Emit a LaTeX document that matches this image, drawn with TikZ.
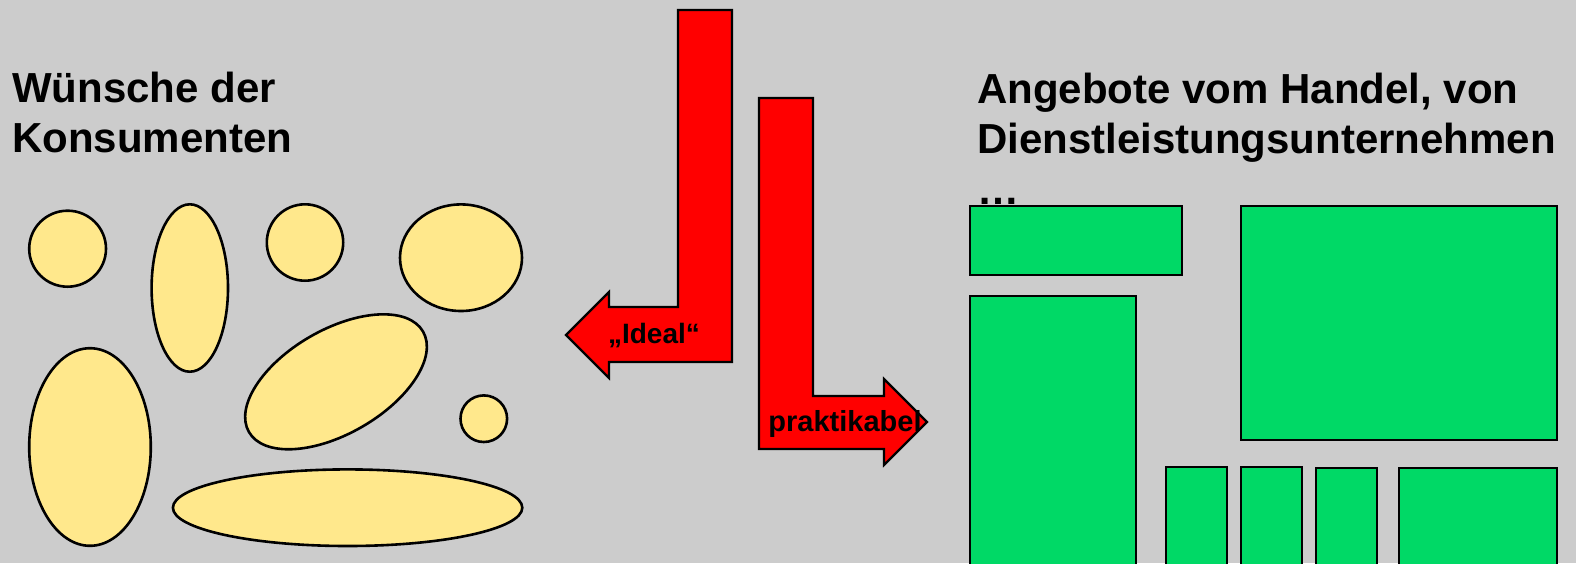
\documentclass[tikz,border=0pt]{standalone}
\usepackage{fontspec}
\setmainfont{Liberation Sans}
\definecolor{bg}{HTML}{CCCCCC}
\definecolor{wish}{HTML}{FFE88C}
\definecolor{offer}{HTML}{00D966}
\definecolor{arrowred}{HTML}{FF0000}
\tikzset{
  wishshape/.style={fill=wish, draw=black, line width=2.6pt},
  offerbox/.style={fill=offer, draw=black, line width=2.4pt},
  redarrow/.style={fill=arrowred, draw=black, line width=2.2pt, line join=miter},
  heading/.style={inner sep=0pt, anchor=base west, font=\fontsize{42}{50}\selectfont\bfseries},
  arrowlabel/.style={inner sep=0pt, anchor=base, font=\fontsize{28}{32}\selectfont\bfseries}
}
\begin{document}
\begin{tikzpicture}[x=1pt,y=-1pt]
\useasboundingbox (0,0) rectangle (1576,563);
\fill[bg] (0,0) rectangle (1576,563);
\clip (0,0) rectangle (1576,563);

% headings
\node[heading] (w1) at (12,102) {Wünsche der};
\node[heading] (w2) at (12,152) {Konsumenten};
\node[heading] (a1) at (977,103) {Angebote vom Handel, von};
\node[heading] (a2) at (977,153) {Dienstleistungsunternehmen};
\node[heading] (a3) at (977,204) {…};

% consumer wishes
\draw[wishshape] (67.6,248.7) ellipse [x radius=38.4, y radius=38];
\draw[wishshape] (189.8,288) ellipse [x radius=38.2, y radius=83.7];
\draw[wishshape] (305,242.5) ellipse [x radius=38.2, y radius=38.2];
\draw[wishshape] (461,257.7) ellipse [x radius=61, y radius=53.3];
\draw[wishshape, rotate around={30:(336,381.8)}] (336,381.8) ellipse [x radius=100.5, y radius=52];
\draw[wishshape] (483.8,418.7) ellipse [x radius=23.3, y radius=23.3];
\draw[wishshape] (90,447) ellipse [x radius=60.8, y radius=98.8];
\draw[wishshape] (347.6,507.7) ellipse [x radius=174.7, y radius=38.3];

% offers
\draw[offerbox] (970,206) rectangle (1182,275);
\draw[offerbox] (1241,206) rectangle (1557,440);
\draw[offerbox] (970,296) rectangle (1136,600);
\draw[offerbox] (1166,467) rectangle (1227,600);
\draw[offerbox] (1241,467) rectangle (1302,600);
\draw[offerbox] (1316,468) rectangle (1377,600);
\draw[offerbox] (1399,468) rectangle (1557,600);

% arrows
\draw[redarrow] (678,10) -- (732,10) -- (732,362) -- (609,362) -- (609,378)
  -- (566,335) -- (609,292) -- (609,307) -- (678,307) -- cycle;
\draw[redarrow] (759,98) -- (813,98) -- (813,396) -- (884,396) -- (884,379)
  -- (927,422) -- (884,465) -- (884,449) -- (759,449) -- cycle;

\node[arrowlabel] (ideal) at (654,343) {„Ideal“};
\node[arrowlabel, font=\fontsize{29}{32}\selectfont\bfseries] (prakt) at (845,431) {praktikabel};
\end{tikzpicture}
\end{document}
